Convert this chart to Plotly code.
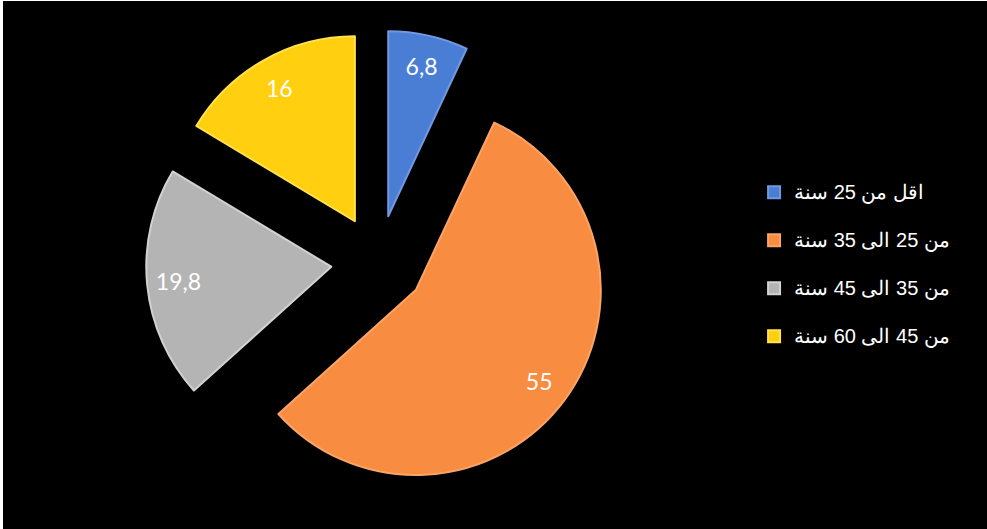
import plotly.graph_objects as go

labels = ["اقل من 25 سنة", "من 25 الى 35 سنة", "من 35 الى 45 سنة", "من 45 الى 60 سنة"]
values = [6.8, 55, 19.8, 16]
colors = ["#4a7dd4", "#f88c40", "#b4b4b4", "#ffcf10"]
edge_colors = ["#7099e0", "#faa468", "#d2d2d2", "#ffe24e"]

legend_labels = ['<span style="font-size:20px">' + l + "</span><br>\u00a0" for l in labels]

domain = dict(x=[0.148, 0.618], y=[0.066, 0.943])
pull = 0.254

fig = go.Figure()
# main slices
fig.add_trace(go.Pie(
    labels=legend_labels,
    values=values,
    sort=False,
    direction="clockwise",
    rotation=0,
    pull=pull,
    marker=dict(colors=colors, line=dict(color=edge_colors, width=2)),
    textinfo="none",
    domain=domain,
    hoverinfo="skip",
))
# transparent ring carrying the value labels near the outer edge
fig.add_trace(go.Pie(
    labels=legend_labels,
    values=values,
    sort=False,
    direction="clockwise",
    rotation=0,
    pull=pull,
    hole=0.66,
    marker=dict(colors=["rgba(0,0,0,0)"] * len(values), line=dict(width=0)),
    textinfo="value",
    textposition="inside",
    insidetextorientation="horizontal",
    textfont=dict(family="Lato", size=23, color="white"),
    domain=domain,
    hoverinfo="skip",
    showlegend=False,
))

fig.update_layout(
    width=987, height=529,
    margin=dict(l=0, r=0, t=0, b=0),
    paper_bgcolor="black",
    plot_bgcolor="black",
    separators=",.",
    showlegend=True,
    legend=dict(
        x=0.764, xanchor="left",
        y=0.670, yanchor="top",
        valign="top",
        font=dict(family="Liberation Sans, Arial", size=17.3, color="white"),
        bgcolor="rgba(0,0,0,0)",
    ),
    shapes=[
        dict(type="rect", xref="paper", yref="paper", x0=0, x1=3/987, y0=0, y1=1,
             fillcolor="white", line=dict(width=0), layer="above"),
        dict(type="rect", xref="paper", yref="paper", x0=0, x1=1, y0=1 - 1/529, y1=1,
             fillcolor="white", line=dict(width=0), layer="above"),
    ],
)

fig.write_html("out.html")
